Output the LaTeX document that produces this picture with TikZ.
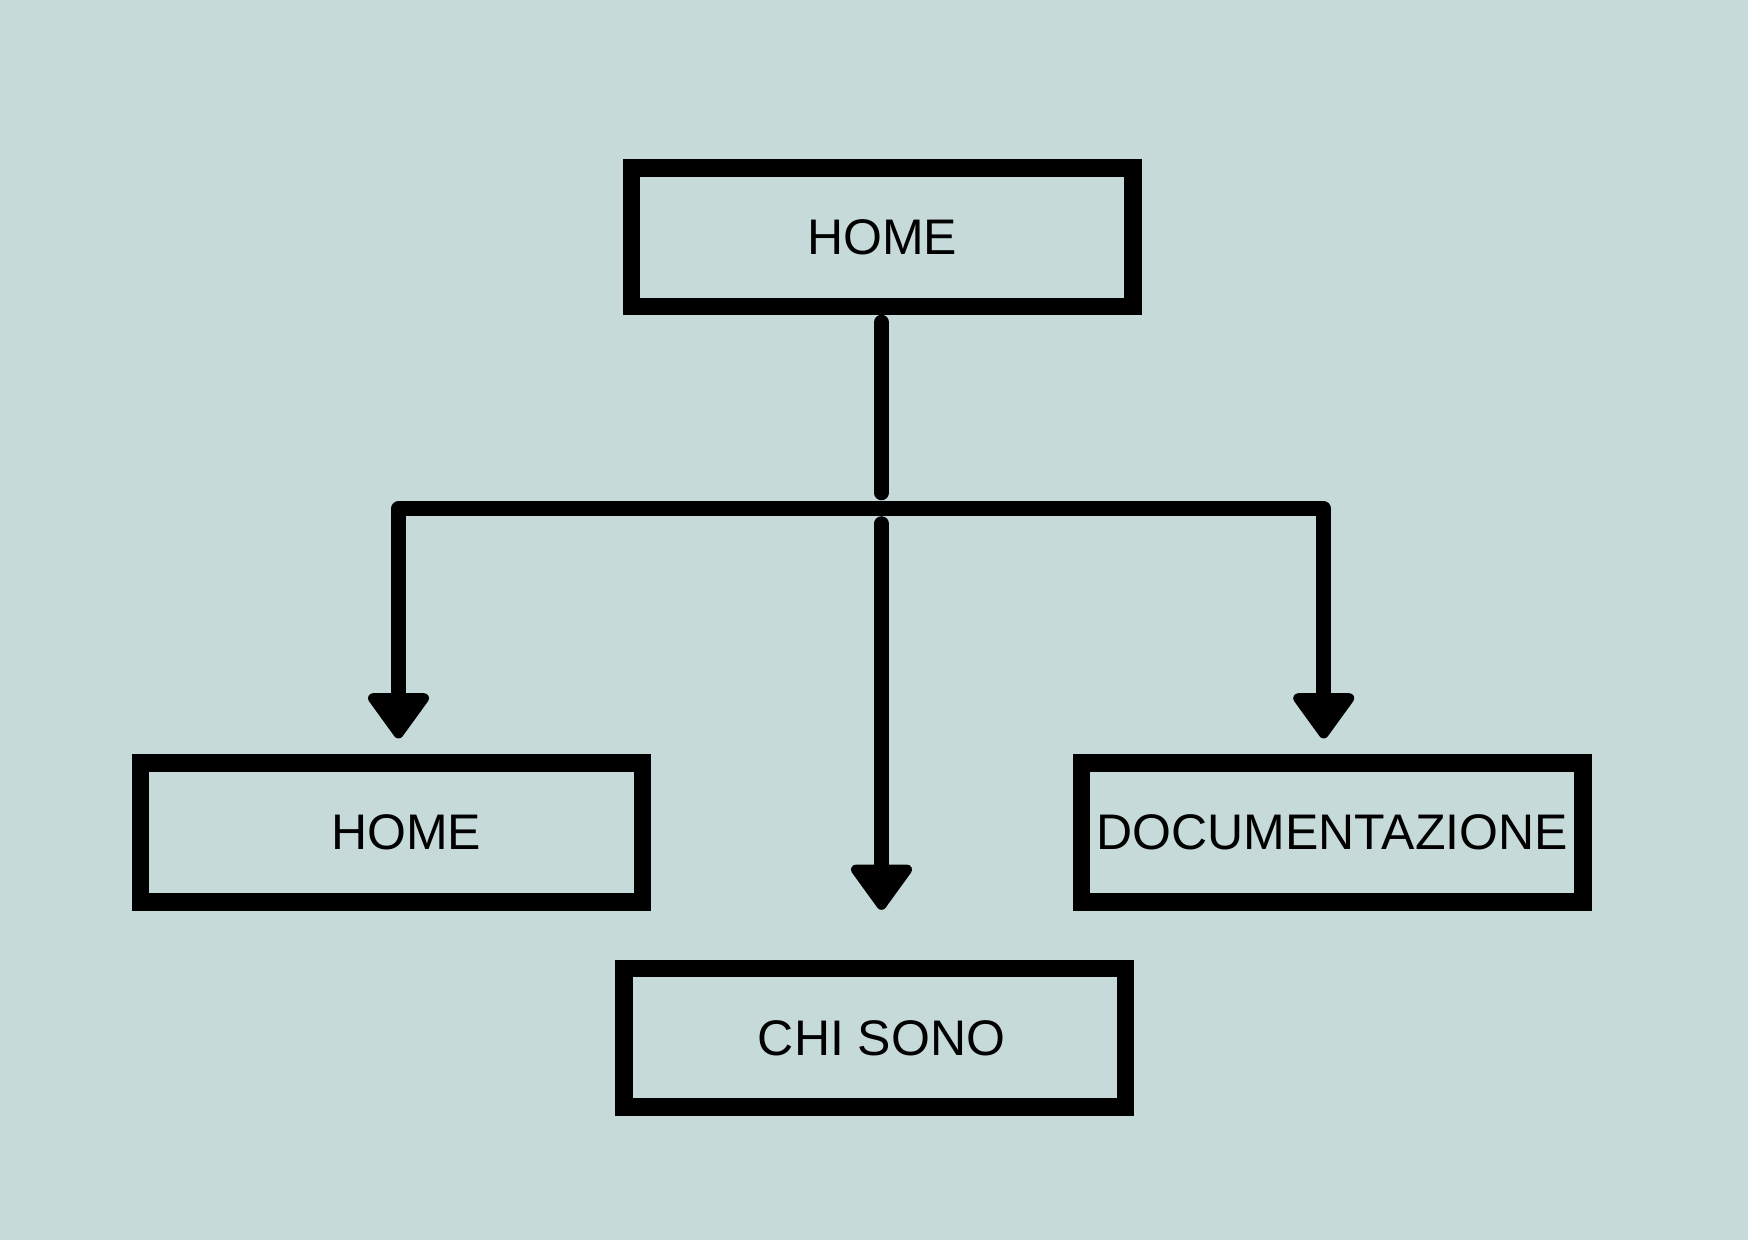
\documentclass[tikz,border=0pt]{standalone}
\usepackage{fontspec}
\setmainfont{Liberation Sans}
\usetikzlibrary{arrows.meta}
\definecolor{bgteal}{RGB}{197,218,217}
\tikzset{
  pagebox/.style={draw=black, line width=8.75pt, fill=none, inner sep=0pt,
    minimum width=250.8pt, minimum height=69.3pt,
    font=\fontsize{25pt}{30pt}\selectfont, text=black},
  conn/.style={draw=black, line width=7.5pt, line cap=round, line join=round},
  tip/.style={-{Triangle[width=34pt,length=24.5pt,line width=5pt,round]}}
}
\begin{document}
\begin{tikzpicture}[x=0.5pt,y=-0.5pt]
  \fill[bgteal] (0,0) rectangle (1748,1240);
  \useasboundingbox (0,0) rectangle (1748,1240);

  \node[pagebox] (top) at (882.3,237.2) {HOME};
  \node[pagebox] (left) at (391.5,832.5) {\hspace*{14.5pt}HOME};
  \node[pagebox] (doc) at (1332.3,832.5) {DOCUMENTAZIONE};
  \node[pagebox] (chi) at (874.6,1037.9) {\hspace*{7pt}CHI SONO};

  \coordinate (J) at (881.5,508.8);
  \coordinate (Lc) at ([xshift=3.5pt]left.north);
  \coordinate (Rc) at ([xshift=-4.3pt]doc.north);

  \draw[conn, shorten <=3.5pt, shorten >=8pt] (top.south -| J) -- (J);
  \draw[conn, tip, shorten >=8pt] (J) -| (Lc);
  \draw[conn, tip, shorten >=8pt] (J) -| (Rc);
  \draw[conn, tip, shorten <=7.45pt, shorten >=25pt] (J) -- (J |- chi.north);
\end{tikzpicture}
\end{document}
